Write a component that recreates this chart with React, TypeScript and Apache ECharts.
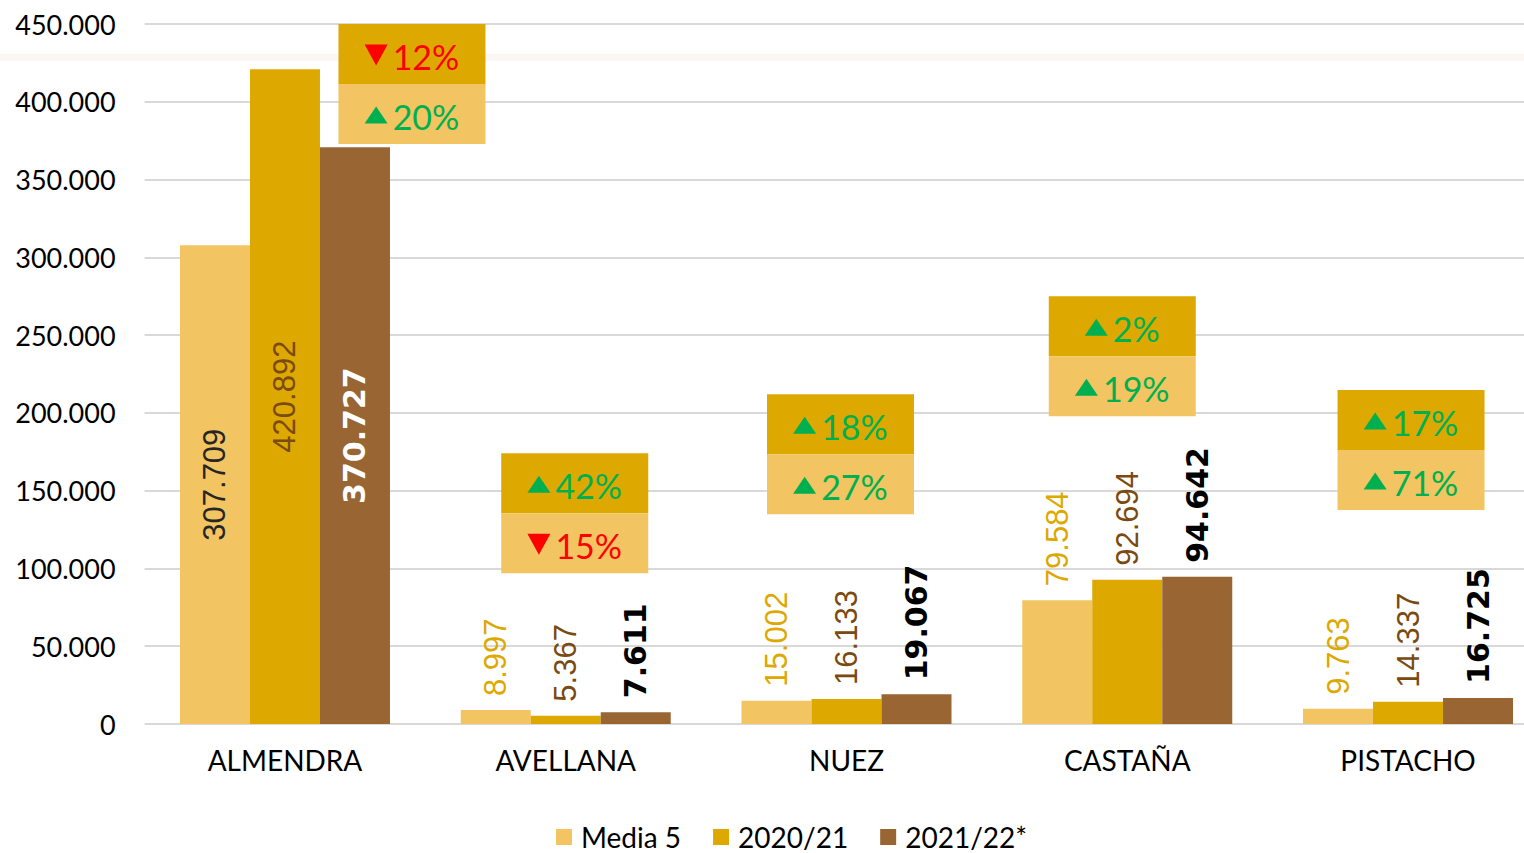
import React, { useEffect, useRef } from "react";
import * as echarts from "echarts";

// ---------- data ----------
const categories = ["ALMENDRA", "AVELLANA", "NUEZ", "CASTAÑA", "PISTACHO"];
const seriesNames = ["Media 5", "2020/21", "2021/22*"];
const media5 = [307709, 8997, 15002, 79584, 9763];
const campaign2020 = [420892, 5367, 16133, 92694, 14337];
const campaign2021 = [370727, 7611, 19067, 94642, 16725];
// % change 2021/22 vs 2020/21 (upper box) and vs Media 5 (lower box)
const changeVsPrev = [-12, 42, 18, 2, 17];
const changeVsMedia = [20, -15, 27, 19, 71];
const yMin = 0;
const yMax = 450000;
const yInterval = 50000;

// ---------- layout / style constants ----------
const BOX_TOP = [450000, 174000, 212000, 275000, 214700]; // box top, in axis units
const BOX_DX = [127, 9, -6, -5, 3]; // horizontal shift from category centre (px)
const BOX_W = 147;
const BOX_H = 60;

const C_MEDIA = "#F2C462";
const C_PREV = "#DDA800";
const C_CUR = "#996633";
const GREEN = "#00B050";
const RED = "#FF0000";
const LABEL_BROWN = "#7A4A10";
const UI_FONT = "Lato";
const PCT_SIZE = 34;

const fmt = (v: number) =>
  String(Math.round(v)).replace(/\B(?=(\d{3})+(?!\d))/g, ".");

let measureCtx: CanvasRenderingContext2D | null = null;
const measure = (t: string) => {
  if (!measureCtx) measureCtx = document.createElement("canvas").getContext("2d");
  if (!measureCtx) return t.length * PCT_SIZE * 0.6;
  measureCtx.font = `${PCT_SIZE}px ${UI_FONT}`;
  return measureCtx.measureText(t).width;
};

function mkBar(
  name: string,
  values: number[],
  color: string,
  outLabel: any,
  inLabel: any
) {
  return {
    type: "bar",
    name,
    barWidth: 70,
    barGap: "0%",
    itemStyle: { color },
    label: {
      show: true,
      position: "top",
      rotate: 90,
      align: "left",
      verticalAlign: "middle",
      distance: 14,
      fontFamily: "Liberation Sans",
      fontSize: 31,
      formatter: (p: any) => fmt(p.value),
      ...outLabel,
    },
    data: values.map((v, i) =>
      i === 0
        ? {
            value: v,
            label: {
              position: "inside",
              align: "center",
              verticalAlign: "middle",
              ...inLabel,
            },
          }
        : v
    ),
  };
}

function boxParts(cx: number, y: number, h: number, fill: string, pct: number) {
  const up = pct >= 0;
  const col = up ? GREEN : RED;
  const txt = Math.abs(pct) + "%";
  const tw = measure(txt);
  const triW = 23;
  const triH = up ? 17 : 21;
  const gap = 5;
  const total = triW + gap + tw;
  const x0 = cx - total / 2;
  const my = y + h / 2 + 1;
  const tri = up
    ? [
        [x0, my + triH / 2],
        [x0 + triW, my + triH / 2],
        [x0 + triW / 2, my - triH / 2],
      ]
    : [
        [x0, my - triH / 2],
        [x0 + triW, my - triH / 2],
        [x0 + triW / 2, my + triH / 2],
      ];
  return [
    {
      type: "rect",
      shape: { x: cx - BOX_W / 2, y, width: BOX_W, height: h },
      style: { fill },
    },
    { type: "polygon", shape: { points: tri }, style: { fill: col } },
    {
      type: "text",
      x: x0 + triW + gap,
      y: my + 1,
      style: {
        text: txt,
        fill: col,
        fontFamily: UI_FONT,
        fontSize: PCT_SIZE,
        align: "left",
        verticalAlign: "middle",
      },
    },
  ];
}

export default function App() {
  const ref = useRef<HTMLDivElement>(null);

  useEffect(() => {
    if (!ref.current) return;
    const chart = echarts.init(ref.current, undefined, { renderer: "svg" });

    const option: any = {
      animation: false,
      backgroundColor: "#ffffff",
      graphic: [
        {
          type: "rect",
          silent: true,
          z: 0,
          shape: { x: 0, y: 54, width: 1524, height: 7 },
          style: { fill: "#fcf7f5" },
        },
      ],
      grid: {
        left: 144.6,
        width: 1403.8,
        top: 24,
        bottom: 129,
        containLabel: false,
        outerBoundsMode: "none",
      },
      legend: {
        data: seriesNames,
        left: 556,
        top: 823,
        icon: "rect",
        itemWidth: 16,
        itemHeight: 16,
        itemGap: 32,
        padding: 0,
        textStyle: {
          fontFamily: UI_FONT,
          fontSize: 28,
          lineHeight: 26,
          color: "#000",
          padding: [0, 0, 0, 4],
        },
      },
      xAxis: {
        type: "category",
        data: categories,
        axisLine: { show: false },
        axisTick: { show: false },
        axisLabel: {
          fontFamily: UI_FONT,
          fontSize: 28,
          color: "#000",
          margin: 22,
        },
      },
      yAxis: {
        type: "value",
        min: yMin,
        max: yMax,
        interval: yInterval,
        axisLine: { show: false },
        axisTick: { show: false },
        splitLine: { lineStyle: { color: "#d9d9d9", width: 2 } },
        axisLabel: {
          formatter: (v: number) => fmt(v),
          fontFamily: UI_FONT,
          fontSize: 27,
          color: "#000",
          margin: 29,
        },
      },
      series: [
        mkBar(seriesNames[0], media5, C_MEDIA, { color: C_PREV }, { color: "#262626" }),
        mkBar(seriesNames[1], campaign2020, C_PREV, { color: LABEL_BROWN }, { color: LABEL_BROWN }),
        mkBar(
          seriesNames[2],
          campaign2021,
          C_CUR,
          { color: "#000", fontFamily: "DejaVu Sans", fontWeight: "bold", fontSize: 30 },
          { color: "#fff" }
        ),
        {
          type: "custom",
          coordinateSystem: "cartesian2d",
          silent: true,
          z: 5,
          clip: false,
          encode: { x: 0, y: 1 },
          data: categories.map((_, i) => [i, BOX_TOP[i], changeVsPrev[i], changeVsMedia[i]]),
          renderItem: (params: any, api: any) => {
            const i = api.value(0);
            const pt = api.coord([i, api.value(1)]);
            const cx = pt[0] + BOX_DX[i];
            const y = pt[1];
            return {
              type: "group",
              children: [
                ...boxParts(cx, y, BOX_H, C_PREV, api.value(2)),
                ...boxParts(cx, y + BOX_H, BOX_H, C_MEDIA, api.value(3)),
              ],
            };
          },
        },
      ],
    };

    chart.setOption(option);
    return () => chart.dispose();
  }, []);

  return (
    <div
      ref={ref}
      style={{ position: "fixed", left: 0, top: 0, width: 1524, height: 853 }}
    />
  );
}
